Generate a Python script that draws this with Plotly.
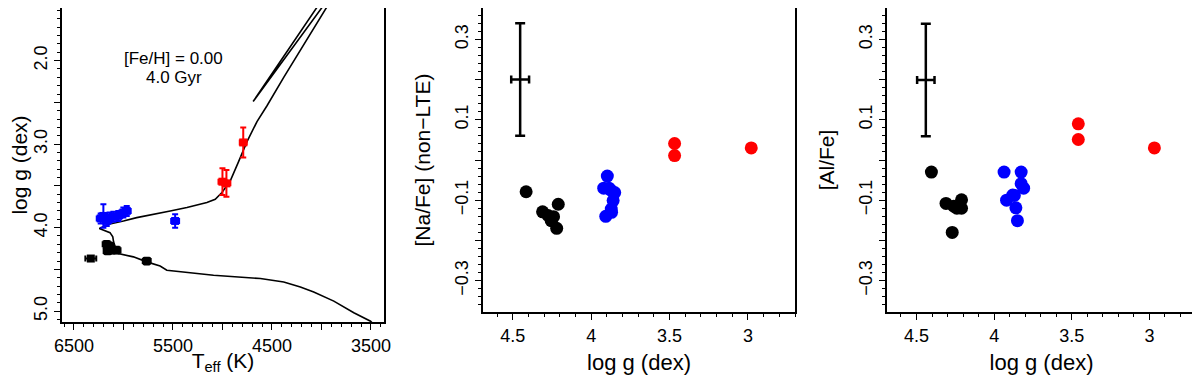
import plotly.graph_objects as go
from plotly.subplots import make_subplots

# ---------------------------------------------------------------------------
# Data.
# ---------------------------------------------------------------------------
# Isochrone ([Fe/H] = 0.00, 4.0 Gyr): main sequence -> turnoff -> RGB.
iso_teff = [3480, 3504, 3673, 3875, 4078, 4213, 4381, 4617, 5090, 5562, 5630,
            5765, 5900, 6052, 6080, 6100, 6108, 6136, 6244, 6150, 6000, 5866,
            5528, 5359, 5157, 5073, 5005, 4921, 4837, 4752, 4651, 4550, 4381,
            4213, 4044, 3926, 3900]
iso_logg = [5.15, 5.12, 5.02, 4.88, 4.77, 4.71, 4.65, 4.61, 4.57, 4.51, 4.46,
            4.41, 4.35, 4.31, 4.24, 4.17, 4.11, 4.06, 4.01, 3.96, 3.92, 3.88,
            3.80, 3.76, 3.70, 3.66, 3.58, 3.44, 3.21, 2.97, 2.73, 2.54, 2.20,
            1.87, 1.55, 1.31, 1.27]
# Clump / AGB loop.
agb_teff = [4010, 4690, 3955]
agb_logg = [1.30, 2.49, 1.30]

# Left panel stars (Teff, log g and their errors).
blk_teff = [6330, 5765, 6170, 6140, 6120, 6160, 6070]
blk_logg = [4.37, 4.40, 4.20, 4.22, 4.27, 4.28, 4.27]
blk_eteff = [55, 40, 40, 40, 40, 40, 40]
blk_elogg = [0.03, 0.04, 0.04, 0.04, 0.04, 0.04, 0.04]

blu_teff = [6203, 6169, 6140, 6102, 6052, 6001, 5967, 6230, 5478]
blu_logg = [3.86, 3.92, 3.88, 3.87, 3.86, 3.82, 3.80, 3.89, 3.92]
blu_eteff = [40, 40, 40, 40, 40, 40, 40, 40, 40]
blu_elogg = [0.14, 0.06, 0.06, 0.06, 0.06, 0.06, 0.06, 0.06, 0.08]

red_teff = [5000, 4960, 4790]
red_logg = [3.45, 3.47, 2.98]
red_eteff = [40, 40, 35]
red_elogg = [0.16, 0.16, 0.18]

# Middle panel: [Na/Fe] (non-LTE) vs log g.
na_blk_logg = [4.415, 4.21, 4.31, 4.275, 4.24, 4.255, 4.22]
na_blk = [-0.079, -0.110, -0.129, -0.138, -0.141, -0.151, -0.170]
na_blu_logg = [3.897, 3.92, 3.886, 3.85, 3.86, 3.872, 3.907, 3.87, 3.875]
na_blu = [-0.040, -0.070, -0.070, -0.081, -0.101, -0.122, -0.140, -0.130, -0.075]
na_red_logg = [3.468, 3.468, 2.979]
na_red = [0.041, 0.011, 0.030]

# Right panel: [Al/Fe] vs log g.
al_blk_logg = [4.404, 4.31, 4.26, 4.24, 4.21, 4.21, 4.27]
al_blk = [-0.030, -0.108, -0.115, -0.120, -0.099, -0.120, -0.180]
al_blu_logg = [3.936, 3.826, 3.826, 3.81, 3.92, 3.88, 3.87, 3.86, 3.85]
al_blu = [-0.030, -0.030, -0.059, -0.070, -0.100, -0.087, -0.088, -0.119, -0.151]
al_red_logg = [3.458, 3.458, 2.968]
al_red = [0.090, 0.051, 0.030]

# Typical error glyph (x, y, ex, ey) for the abundance panels.
na_err = [4.453, 0.200, 0.057, 0.140]
al_err = [4.440, 0.199, 0.056, 0.140]

BLUE = "#0000ff"
RED = "#ff0000"
FONT = "Liberation Sans, Arial, Helvetica, sans-serif"

# The page body has an 8px margin, so the figure is sized to fit inside it
# and the panel domains are worked out from window pixel positions.
OFF = 8
FIG_W, FIG_H = 1200 - OFF, 375 - OFF


def xdom(x0, x1):
    return [max(0.0, (x0 - OFF) / FIG_W), min(1.0, (x1 - OFF) / FIG_W)]


def ydom(top, bottom):
    return [max(0.0, 1 - (bottom - OFF) / FIG_H), min(1.0, 1 - (top - OFF) / FIG_H)]


fig = make_subplots(rows=1, cols=3)

# ---------------------------------------------------------------------------
# Panel 1: HR diagram.
# ---------------------------------------------------------------------------
fig.add_trace(go.Scatter(x=iso_teff, y=iso_logg, mode="lines",
                         line=dict(color="black", width=1.6)), row=1, col=1)
fig.add_trace(go.Scatter(x=agb_teff, y=agb_logg, mode="lines",
                         line=dict(color="black", width=1.6)), row=1, col=1)

for tx, gy, etx, egy, col in [
    (blk_teff, blk_logg, blk_eteff, blk_elogg, "black"),
    (blu_teff, blu_logg, blu_eteff, blu_elogg, BLUE),
    (red_teff, red_logg, red_eteff, red_elogg, RED),
]:
    fig.add_trace(go.Scatter(
        x=tx, y=gy, mode="markers",
        marker=dict(symbol="square", size=8, color=col),
        error_x=dict(type="data", array=etx, color=col, thickness=2, width=3),
        error_y=dict(type="data", array=egy, color=col, thickness=2, width=3),
    ), row=1, col=1)

fig.add_annotation(x=5498, y=1.98, text="[Fe/H] = 0.00", showarrow=False,
                   xref="x", yref="y", font=dict(size=17, color="black"))
fig.add_annotation(x=5490, y=2.20, text="4.0 Gyr", showarrow=False,
                   xref="x", yref="y", font=dict(size=17, color="black"))

# ---------------------------------------------------------------------------
# Panels 2 and 3: abundances vs log g.
# ---------------------------------------------------------------------------
for col_idx, err, series in [
    (2, na_err, [(na_blk_logg, na_blk, "black"), (na_blu_logg, na_blu, BLUE),
                 (na_red_logg, na_red, RED)]),
    (3, al_err, [(al_blk_logg, al_blk, "black"), (al_blu_logg, al_blu, BLUE),
                 (al_red_logg, al_red, RED)]),
]:
    fig.add_trace(go.Scatter(
        x=[err[0]], y=[err[1]], mode="markers",
        marker=dict(size=1, color="black"),
        error_x=dict(type="data", array=[err[2]], color="black",
                     thickness=2.5, width=4),
        error_y=dict(type="data", array=[err[3]], color="black",
                     thickness=2.5, width=5),
    ), row=1, col=col_idx)
    for xs, ys, c in series:
        fig.add_trace(go.Scatter(
            x=xs, y=ys, mode="markers",
            marker=dict(symbol="circle", size=13, color=c),
        ), row=1, col=col_idx)

# ---------------------------------------------------------------------------
# Axes.
# ---------------------------------------------------------------------------
axis_common = dict(
    showline=True, linewidth=2, linecolor="black", mirror=True,
    ticks="outside", ticklen=6, tickwidth=1.2, tickcolor="black",
    showgrid=False, zeroline=False, automargin=False,
    tickfont=dict(size=18, color="black", family=FONT),
)

fig.update_xaxes(
    **axis_common, domain=xdom(62, 384), range=[6621, 3368],
    tickvals=[6500, 6000, 5500, 5000, 4500, 4000, 3500],
    ticktext=["6500", "", "5500", "", "4500", "", "3500"],
    minor=dict(ticks="outside", dtick=100, ticklen=3, tickcolor="black"),
    title=dict(text="T<sub>eff</sub> (K)", font=dict(size=21, color="black")),
    row=1, col=1,
)
fig.update_yaxes(
    **axis_common, domain=ydom(5, 322), range=[5.13, 1.37],
    tickvals=[2.0, 2.5, 3.0, 3.5, 4.0, 4.5, 5.0],
    ticktext=["2.0", "", "3.0", "", "4.0", "", "5.0"], tickangle=-90,
    minor=dict(ticks="outside", dtick=0.1, ticklen=3, tickcolor="black"),
    title=dict(text="log g (dex)", font=dict(size=21, color="black")),
    row=1, col=1,
)

abund_x = dict(
    range=[4.69, 2.70],
    tickvals=[4.5, 4.0, 3.5, 3.0], ticktext=["4.5", "4", "3.5", "3"],
    minor=dict(ticks="outside", dtick=0.1, ticklen=3, tickcolor="black"),
)
abund_y = dict(
    range=[-0.378, 0.378], tickangle=-90,
    tickvals=[-0.3, -0.2, -0.1, 0.0, 0.1, 0.2, 0.3],
    ticktext=["\u22120.3", "", "\u22120.1", "", "0.1", "", "0.3"],
    minor=dict(ticks="outside", dtick=0.02, ticklen=3, tickcolor="black"),
)

fig.update_xaxes(**axis_common, **abund_x, domain=xdom(483, 795),
                 title=dict(text="log g (dex)", font=dict(size=22, color="black")),
                 row=1, col=2)
fig.update_yaxes(**axis_common, **abund_y, domain=ydom(5, 312),
                 title=dict(text="[Na/Fe] (non\u2212LTE)",
                            font=dict(size=21, color="black")),
                 row=1, col=2)
fig.update_xaxes(**axis_common, **abund_x, domain=xdom(887, 1196),
                 title=dict(text="log g (dex)", font=dict(size=22, color="black")),
                 row=1, col=3)
fig.update_yaxes(**axis_common, **abund_y, domain=ydom(5, 312),
                 title=dict(text="[Al/Fe]", font=dict(size=21, color="black")),
                 row=1, col=3)

fig.update_layout(
    width=FIG_W, height=FIG_H,
    margin=dict(l=0, r=0, t=0, b=0),
    paper_bgcolor="white", plot_bgcolor="white",
    showlegend=False,
    font=dict(family=FONT, color="black"),
)

fig.write_html("out.html")
